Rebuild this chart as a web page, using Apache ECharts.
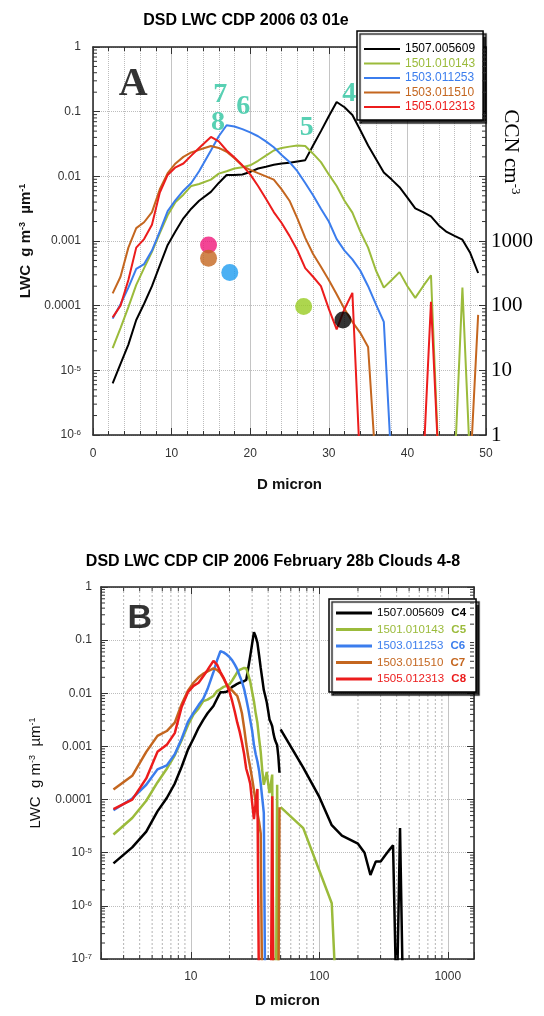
<!DOCTYPE html>
<html>
<head>
<meta charset="utf-8">
<title>DSD LWC CDP</title>
<script src="https://cdn.jsdelivr.net/npm/echarts@6/dist/echarts.min.js"></script>
<style>
  html, body { margin: 0; padding: 0; background: #fff; }
  #chart { width: 544px; height: 1016px; }
</style>
</head>
<body>
<div id="chart"></div>
<script>
// CDP bin centres, micron
var diam = [2.5, 3.5, 4.5, 5.5, 6.5, 7.5, 8.5, 9.5, 10.5, 11.5, 12.5, 13.5,
  15, 16, 17, 18, 19, 20, 21, 22, 23, 24, 25, 26, 27, 28, 29, 30, 31, 32,
  33, 34, 35, 36, 37, 38, 39, 40, 41, 42, 43, 44, 45, 46, 47, 48, 49];

// LWC g m-3 um-1 per bin (0 = empty bin)
var lwc1507 = [6.3e-6, 1.26e-5, 2.5e-5, 6.0e-5, 1.07e-4, 2.0e-4, 4.2e-4, 8.7e-4, 1.41e-3, 2.24e-3, 3.16e-3, 4.2e-3,
  5.75e-3, 7.9e-3, 0.0105, 0.0105, 0.0107, 0.0117, 0.0132, 0.0141, 0.0151, 0.0158, 0.0162, 0.017, 0.0178, 0.030, 0.050, 0.085, 0.141, 0.117,
  0.089, 0.052, 0.030, 0.0186, 0.0115, 0.0089, 0.0068, 0.0047, 0.0032, 0.0028, 0.0024, 0.00174, 0.00138, 0.0012, 0.00105, 0.00065, 0.00032];
var lwc1501 = [2.2e-5, 4.5e-5, 9.5e-5, 2.1e-4, 3.8e-4, 6.8e-4, 1.32e-3, 2.5e-3, 4.0e-3, 5.2e-3, 7.1e-3, 7.6e-3,
  8.9e-3, 0.011, 0.012, 0.0132, 0.0138, 0.0148, 0.0174, 0.0209, 0.0251, 0.0275, 0.0288, 0.030, 0.0295, 0.0224, 0.0166, 0.0107, 0.0071, 0.0042,
  0.00275, 0.00141, 7.9e-4, 3.5e-4, 1.9e-4, 2.5e-4, 3.3e-4, 2.0e-4, 1.32e-4, 2.0e-4, 2.95e-4, 0, 0, 0, 1.9e-4, 0, 0];
var lwc1503a = [6.3e-5, 1.05e-4, 1.9e-4, 3.7e-4, 4.4e-4, 7.1e-4, 1.41e-3, 2.9e-3, 4.3e-3, 6.0e-3, 7.9e-3, 0.012,
  0.0251, 0.0417, 0.0617, 0.0589, 0.0537, 0.0479, 0.0417, 0.0347, 0.0282, 0.0214, 0.0166, 0.012, 7.9e-3, 5.1e-3, 3.16e-3, 2.0e-3, 1.07e-3, 7.1e-4,
  5.2e-4, 3.5e-4, 2.0e-4, 1.05e-4, 5.6e-5, 0, 0, 0, 0, 0, 0, 0, 0, 0, 0, 0, 0];
var lwc1503b = [1.55e-4, 2.8e-4, 7.9e-4, 1.58e-3, 1.95e-3, 2.8e-3, 6.3e-3, 0.0112, 0.0158, 0.020, 0.0234, 0.0257,
  0.0295, 0.0275, 0.024, 0.019, 0.0145, 0.0126, 0.0112, 0.010, 8.9e-3, 6.3e-3, 4.2e-3, 2.24e-3, 1.12e-3, 6.3e-4, 4.0e-4, 2.5e-4, 1.5e-4, 8.9e-5,
  5.6e-5, 3.8e-5, 2.3e-5, 0, 0, 0, 0, 0, 0, 0, 0, 0, 0, 0, 0, 0, 7.2e-5];
var lwc1505 = [6.6e-5, 1.0e-4, 2.5e-4, 7.9e-4, 1.07e-3, 1.78e-3, 5.6e-3, 0.0105, 0.0138, 0.0158, 0.0209, 0.0275,
  0.0407, 0.0347, 0.0251, 0.0195, 0.0148, 0.0107, 7.1e-3, 4.5e-3, 2.8e-3, 1.9e-3, 1.2e-3, 7.2e-4, 3.8e-4, 2.8e-4, 2.0e-4, 8.9e-5, 4.3e-5, 8.9e-5,
  1.58e-4, 0, 0, 0, 0, 0, 0, 0, 0, 0, 1.15e-4, 0, 0, 0, 0, 0, 0];

// CIP extension (panel B only)
var cip1507D = [50, 75, 100, 125, 150, 200, 225, 250, 275, 300, 325, 350, 375, 400, 425, 450];
var cip1507 = [2.1e-3, 4.0e-4, 1.12e-4, 3.3e-5, 2.1e-5, 1.48e-5, 1.0e-5, 3.8e-6, 6.8e-6, 6.8e-6, 8.9e-6, 1.12e-5, 1.38e-5, 0, 2.9e-5, 0];
var cip1501D = [50, 75, 125, 137];
var cip1501 = [7.2e-5, 2.9e-5, 1.12e-6, 0];

// CCN, cm-3 (right axis of A)
var ccnD = [14.7, 14.7, 17.4, 26.8, 31.8];
var ccnVal = [870, 540, 325, 97, 60];
var ccnColors = ['#f0177a', '#c4661f', '#1e9cf0', '#99cc22', '#000000'];

// cloud numbers written on A
var tagText = ['7', '6', '8', '5', '4'];
var tagD = [16.2, 19.1, 15.9, 27.2, 32.6];
var tagLWC = [0.18, 0.118, 0.067, 0.056, 0.19];

var names = ['1507.005609', '1501.010143', '1503.011253', '1503.011510', '1505.012313'];
var cloudTags = ['C4', 'C5', 'C6', 'C7', 'C8'];
var colors = ['#000000', '#9bbb3b', '#3b7ded', '#c4661f', '#ec1c1c'];

var cdp = [lwc1507, lwc1501, lwc1503a, lwc1503b, lwc1505];
var cip = { 0: [cip1507D, cip1507], 1: [cip1501D, cip1501] };

var floorA = 3e-7;   // empty bins are drawn just under the axis floor
var floorB = 1e-8;

var SANS = '"Liberation Sans", Arial, sans-serif';
var SERIF = '"Liberation Serif", "Times New Roman", serif';

var toPairs = function (xs, ys, floor) {
  var out = [];
  for (var i = 0; i < xs.length; i++) {
    out.push([xs[i], ys[i] > 0 ? ys[i] : floor]);
  }
  return out;
};

var minorsOf = function (lo, hi) {
  var out = [];
  for (var e = Math.floor(Math.log10(lo)); e <= Math.ceil(Math.log10(hi)); e++) {
    for (var k = 2; k <= 9; k++) {
      var v = k * Math.pow(10, e);
      if (v > lo * 1.0001 && v < hi * 0.9999) out.push(v);
    }
  }
  return out;
};

var decadeLabel = function (v) {
  var e = Math.round(Math.log10(v));
  if (e === 0) return '1';
  if (e >= -4) return (1 / Math.pow(10, -e)).toFixed(-e);
  return '10{s|' + e + '}';
};

// dotted minor grid + inside minor ticks drawn through the axes
var markSeries = function (kind, xi, yi, pts) {
  return {
    type: 'custom',
    xAxisIndex: xi,
    yAxisIndex: yi,
    silent: true,
    z: kind === 'vline' ? 1 : 6,
    data: pts,
    renderItem: function (params, api) {
      var cs = params.coordSys;
      var p = api.coord([api.value(0), api.value(1)]);
      var tk = { stroke: '#333', lineWidth: 1 };
      if (kind === 'vline') {
        return { type: 'line', shape: { x1: p[0], y1: cs.y, x2: p[0], y2: cs.y + cs.height },
          style: { stroke: '#b4b4b4', lineWidth: 1, lineDash: [2, 2] } };
      }
      if (kind === 'xtick') {
        return { type: 'group', children: [
          { type: 'line', shape: { x1: p[0], y1: cs.y + cs.height, x2: p[0], y2: cs.y + cs.height - 4 }, style: tk },
          { type: 'line', shape: { x1: p[0], y1: cs.y, x2: p[0], y2: cs.y + 4 }, style: tk }
        ] };
      }
      return { type: 'group', children: [
        { type: 'line', shape: { x1: cs.x, y1: p[1], x2: cs.x + 4, y2: p[1] }, style: tk },
        { type: 'line', shape: { x1: cs.x + cs.width, y1: p[1], x2: cs.x + cs.width - 4, y2: p[1] }, style: tk }
      ] };
    }
  };
};

var frame = { show: true, onZero: false, lineStyle: { color: '#222', width: 1.5 } };
var inTick = { show: true, inside: true, length: 7, lineStyle: { color: '#333' } };
var supRich = { s: { fontSize: 8, verticalAlign: 'top', fontFamily: SANS, color: '#333' } };

var series = [];

// panel A lines
names.forEach(function (n, i) {
  series.push({
    name: n, type: 'line', xAxisIndex: 0, yAxisIndex: 0,
    data: toPairs(diam, cdp[i], floorA),
    symbol: 'none', clip: true, z: 3,
    lineStyle: { color: colors[i], width: 2 }, itemStyle: { color: colors[i] }
  });
});

// panel B lines (CDP + CIP)
names.forEach(function (n, i) {
  var data = toPairs(diam, cdp[i], floorB);
  if (cip[i]) {
    data.push([49.5, '-']);
    data = data.concat(toPairs(cip[i][0], cip[i][1], floorB));
  }
  series.push({
    name: n, type: 'line', xAxisIndex: 2, yAxisIndex: 2,
    data: data, symbol: 'none', clip: true, z: 3,
    lineStyle: { color: colors[i], width: 2.5 }, itemStyle: { color: colors[i] }
  });
});

// CCN dots
series.push({
  type: 'scatter', xAxisIndex: 0, yAxisIndex: 1, symbolSize: 17, z: 4,
  data: ccnD.map(function (d, i) {
    return { value: [d, ccnVal[i]], itemStyle: { color: ccnColors[i] } };
  })
});

// text on the plots
var tagItems = tagText.map(function (t, i) {
  return { value: [tagD[i], tagLWC[i]], label: { formatter: t } };
});
tagItems.push({ value: [5.1, 0.26], label: { formatter: 'A', color: '#000', fontSize: 40 } });
series.push({
  type: 'scatter', xAxisIndex: 0, yAxisIndex: 0, symbolSize: 1, z: 5, silent: true,
  itemStyle: { color: 'rgba(0,0,0,0)' },
  label: { show: true, position: 'inside', fontFamily: SERIF, fontWeight: 'bold', fontSize: 28, color: '#2ec4a0' },
  data: tagItems
});
series.push({
  type: 'scatter', xAxisIndex: 2, yAxisIndex: 2, symbolSize: 1, z: 5, silent: true,
  itemStyle: { color: 'rgba(0,0,0,0)' },
  label: { show: true, position: 'inside', fontFamily: SANS, fontWeight: 'bold', fontSize: 34, color: '#000' },
  data: [{ value: [4.0, 0.25], label: { formatter: 'B' } }]
});

// minor grid / ticks
series.push(markSeries('ytick', 0, 0, minorsOf(1e-6, 1).map(function (v) { return [25, v]; })));
var bxMinor = minorsOf(2, 1600);
series.push(markSeries('vline', 2, 2, bxMinor.map(function (v) { return [v, 1e-3]; })));
series.push(markSeries('xtick', 2, 2, bxMinor.map(function (v) { return [v, 1e-3]; })));
series.push(markSeries('ytick', 2, 2, minorsOf(1e-7, 1).map(function (v) { return [10, v]; })));

var tagRich = {};
names.forEach(function (n, i) {
  tagRich['t' + i] = { color: colors[i], fontWeight: 'bold', fontSize: 11.5, fontFamily: SANS, padding: [0, 0, 0, 4] };
});

var option = {
  animation: false,
  backgroundColor: '#fff',
  title: [
    { text: 'DSD LWC CDP 2006 03 01e', left: 241, top: 8, textAlign: 'center',
      textStyle: { fontFamily: SANS, fontSize: 16, fontWeight: 'bold', color: '#000' } },
    { text: 'DSD LWC CDP CIP 2006 February 28b Clouds 4-8', left: 268, top: 549, textAlign: 'center',
      textStyle: { fontFamily: SANS, fontSize: 16, fontWeight: 'bold', color: '#000' } }
  ],
  legend: [
    {
      left: 357, top: 31, orient: 'vertical', icon: 'rect',
      itemWidth: 36, itemHeight: 2, itemGap: 2.5,
      padding: [12, 8, 7, 7],
      backgroundColor: '#fff', borderColor: '#000', borderWidth: 1.5,
      shadowColor: 'rgba(0,0,0,0.85)', shadowOffsetX: 3, shadowOffsetY: 3, shadowBlur: 1,
      textStyle: { fontFamily: SANS, fontSize: 12 },
      data: names.map(function (n, i) { return { name: n, textStyle: { color: colors[i] } }; })
    },
    {
      left: 329, top: 599, orient: 'vertical', icon: 'rect',
      itemWidth: 36, itemHeight: 3, itemGap: 4.5,
      padding: [8, 10, 7, 7],
      backgroundColor: '#fff', borderColor: '#000', borderWidth: 1.5,
      shadowColor: 'rgba(0,0,0,0.85)', shadowOffsetX: 3, shadowOffsetY: 3, shadowBlur: 1,
      textStyle: { fontFamily: SANS, fontSize: 11.5, rich: tagRich },
      formatter: function (name) {
        var i = names.indexOf(name);
        return name + ' {t' + i + '|' + cloudTags[i] + '}';
      },
      data: names.map(function (n, i) { return { name: n, textStyle: { color: colors[i] } }; })
    }
  ],
  grid: [
    { left: 93, top: 47, width: 393, height: 388 },
    { left: 101, top: 587, width: 373, height: 372 }
  ],
  xAxis: [
    {
      type: 'value', gridIndex: 0, position: 'bottom', min: 0, max: 50, interval: 10,
      name: 'D micron', nameLocation: 'middle', nameGap: 42,
      nameTextStyle: { fontFamily: SANS, fontSize: 15, fontWeight: 'bold', color: '#111' },
      axisLine: frame, axisTick: inTick,
      minorTick: { show: true, splitNumber: 5, length: 4, lineStyle: { color: '#333' } },
      axisLabel: { fontFamily: SANS, fontSize: 12, color: '#333', margin: 13 },
      splitLine: { show: true, lineStyle: { color: '#c4c4c4', width: 1 } },
      minorSplitLine: { show: true, lineStyle: { color: '#bdbdbd', type: 'dotted' } }
    },
    {
      type: 'value', gridIndex: 0, position: 'top', min: 0, max: 50, interval: 10,
      axisLine: frame, axisTick: inTick,
      minorTick: { show: true, splitNumber: 5, length: 4, lineStyle: { color: '#333' } },
      axisLabel: { show: false }, splitLine: { show: false }
    },
    {
      type: 'log', gridIndex: 1, position: 'bottom', min: 2, max: 1600,
      name: 'D micron', nameLocation: 'middle', nameGap: 34,
      nameTextStyle: { fontFamily: SANS, fontSize: 15, fontWeight: 'bold', color: '#111' },
      axisLine: frame, axisTick: inTick,
      axisLabel: {
        fontFamily: SANS, fontSize: 12, color: '#333', margin: 12,
        formatter: function (v) {
          var e = Math.log10(v);
          return Math.abs(e - Math.round(e)) < 1e-6 ? String(Math.round(v)) : '';
        }
      },
      splitLine: { show: true, lineStyle: { color: '#c4c4c4', width: 1 } }
    },
    {
      type: 'log', gridIndex: 1, position: 'top', min: 2, max: 1600,
      axisLine: frame, axisTick: inTick,
      axisLabel: { show: false }, splitLine: { show: false }
    }
  ],
  yAxis: [
    {
      type: 'log', gridIndex: 0, position: 'left', min: 1e-6, max: 1,
      name: 'LWC  g m{s|-3}  \u00b5m{s|-1}', nameLocation: 'middle', nameGap: 55, nameRotate: 90,
      nameTextStyle: { fontFamily: SANS, fontSize: 15, fontWeight: 'bold', color: '#111',
        rich: { s: { fontSize: 9, fontWeight: 'bold', verticalAlign: 'top', fontFamily: SANS } } },
      axisLine: frame, axisTick: inTick,
      axisLabel: { fontFamily: SANS, fontSize: 12, color: '#333', margin: 12, formatter: decadeLabel, rich: supRich },
      splitLine: { show: true, lineStyle: { color: '#bdbdbd', type: 'dotted' } }
    },
    {
      type: 'log', gridIndex: 0, position: 'right', min: 1, max: 1e6,
      axisLine: frame, axisTick: inTick,
      axisLabel: {
        fontFamily: SERIF, fontSize: 21, color: '#000', margin: 5,
        formatter: function (v) {
          var e = Math.round(Math.log10(v));
          return e <= 3 ? String(Math.pow(10, e)) : '';
        }
      },
      splitLine: { show: false }
    },
    {
      type: 'log', gridIndex: 1, position: 'left', min: 1e-7, max: 1,
      name: 'LWC  g m{s|-3}  \u00b5m{s|-1}', nameLocation: 'middle', nameGap: 58, nameRotate: 90,
      nameTextStyle: { fontFamily: SANS, fontSize: 15, color: '#111',
        rich: { s: { fontSize: 9, verticalAlign: 'top', fontFamily: SANS } } },
      axisLine: frame, axisTick: inTick,
      axisLabel: { fontFamily: SANS, fontSize: 12, color: '#333', margin: 9, formatter: decadeLabel, rich: supRich },
      splitLine: { show: true, lineStyle: { color: '#bdbdbd', type: 'dotted' } }
    },
    {
      type: 'log', gridIndex: 1, position: 'right', min: 1e-7, max: 1,
      axisLine: frame, axisTick: inTick,
      axisLabel: { show: false }, splitLine: { show: false }
    }
  ],
  graphic: [
    {
      type: 'text', x: 511, y: 152, rotation: -Math.PI / 2,
      style: {
        text: 'CCN cm{s|-3}', fill: '#000', font: '21px ' + SERIF,
        align: 'center', verticalAlign: 'middle',
        rich: { s: { fontSize: 13, verticalAlign: 'top', fontFamily: SERIF } }
      }
    }
  ],
  series: series
};

var chart = echarts.init(document.getElementById('chart'));
chart.setOption(option);
</script>
</body>
</html>
